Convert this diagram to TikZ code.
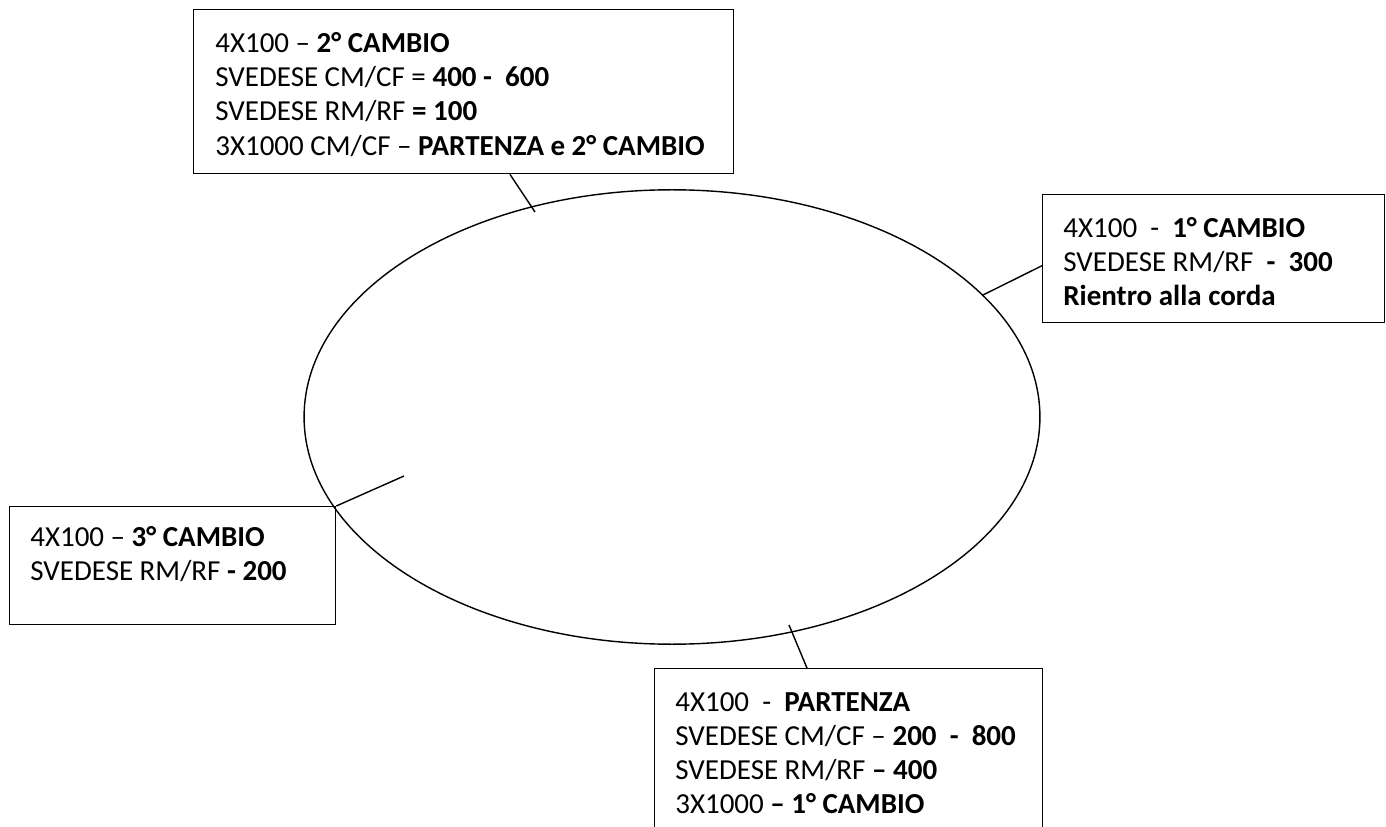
\documentclass[tikz,border=0pt]{standalone}
\usepackage{fontspec}
\setmainfont{Carlito}
\usetikzlibrary{shapes.geometric}
\tikzset{
  infobox/.style={draw,line width=0.8pt,anchor=north west,inner sep=0pt},
  infotext/.style={anchor=north west,align=left,inner sep=0pt,
    font=\fontsize{16.5}{19.5}\selectfont},
  leader/.style={line width=0.8pt}
}

\begin{document}
\begin{tikzpicture}[x=0.02cm,y=-0.02cm]
  \useasboundingbox (0,0) rectangle (1386,827);
  % pista
  \node[ellipse,draw,line width=0.8pt,inner sep=0pt,
    minimum width=14.72cm,minimum height=9.09cm] (pista) at (672,417) {};

  % riquadri
  \node[infobox,minimum width=10.8cm,minimum height=3.28cm] (b2) at (193,9) {};
  \node[infobox,minimum width=6.84cm,minimum height=2.56cm] (b1) at (1042,194) {};
  \node[infobox,minimum width=6.52cm,minimum height=2.36cm] (b3) at (9,506) {};
  \node[infobox,minimum width=7.76cm,minimum height=3.4cm] (bp) at (654,668) {};

  \node[infotext] (t2) at (215,32) {4X100 -- \textbf{2° CAMBIO}\\
    SVEDESE CM/CF = \textbf{400 -~~600}\\
    SVEDESE RM/RF \textbf{= 100}\\
    3X1000 CM/CF -- \textbf{PARTENZA e 2° CAMBIO}};
  \node[infotext] (t1) at (1063,217) {4X100~~-~~\textbf{1° CAMBIO}\\
    SVEDESE RM/RF~~\textbf{-~~300}\\
    \textbf{Rientro alla corda}};
  \node[infotext] (t3) at (30,526) {4X100 -- \textbf{3° CAMBIO}\\
    SVEDESE RM/RF \textbf{- 200}};
  \node[infotext] (tp) at (675,692) {4X100~~-~~\textbf{PARTENZA}\\
    SVEDESE CM/CF -- \textbf{200~~-~~800}\\
    SVEDESE RM/RF \textbf{-- 400}\\
    3X1000 \textbf{-- 1° CAMBIO}};

  % punti di cambio
  \coordinate (e2) at (535,212);
  \coordinate (e1) at (983,295);
  \coordinate (e3) at (404,476);
  \coordinate (ep) at (789,625);
  \draw[leader] ([xshift=6.34cm]b2.south west) -- (e2);
  \draw[leader] ([yshift=-0.14cm]b1.west) -- (e1);
  \draw[leader] (b3.north east) -- (e3);
  \draw[leader] ([xshift=3.06cm]bp.north west) -- (ep);
\end{tikzpicture}
\end{document}
